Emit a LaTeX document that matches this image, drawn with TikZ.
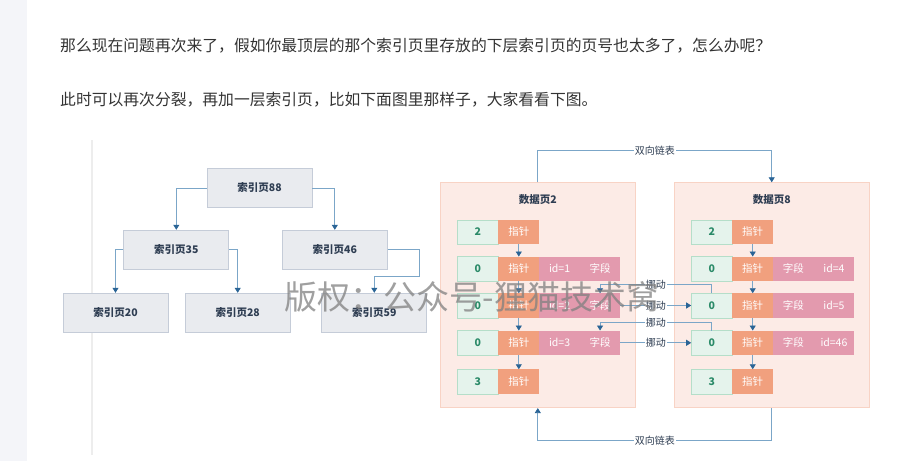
\documentclass[tikz,border=0pt]{standalone}
\usepackage{fontspec}
\setmainfont{Noto Sans CJK SC}
\usetikzlibrary{arrows.meta,positioning}
\definecolor{sidebar}{HTML}{F4F5F9}
\definecolor{paratext}{HTML}{333333}
\definecolor{idxfill}{HTML}{E9EBEF}
\definecolor{idxborder}{HTML}{C5CCD8}
\definecolor{idxtext}{HTML}{2E3D52}
\definecolor{pagebg}{HTML}{FCEBE6}
\definecolor{pageborder}{HTML}{F8D3C5}
\definecolor{numfill}{HTML}{E5F3EC}
\definecolor{numborder}{HTML}{B5DEC9}
\definecolor{numtext}{HTML}{2A8A68}
\definecolor{ptrfill}{HTML}{F1A07E}
\definecolor{fieldfill}{HTML}{E39AAE}
\definecolor{linkline}{HTML}{7BA6C8}
\definecolor{linktip}{HTML}{2A6496}
\tikzstyle{para} = [anchor=west,inner sep=0,text=paratext,font=\fontsize{15.8}{18}\selectfont]
\tikzstyle{link} = [linkline,line width=0.8pt]
\tikzstyle{link>} = [link,-{Triangle[length=5pt,width=6pt,color=linktip]}]
\tikzstyle{idx} = [draw=idxborder,fill=idxfill,line width=0.8pt,minimum width=105,minimum height=39,text=idxtext,font=\fontsize{10.5}{12}\selectfont\bfseries]
\tikzstyle{data page} = [draw=pageborder,fill=pagebg,line width=0.8pt,minimum width=195.5,minimum height=225]
\tikzstyle{page title} = [text=idxtext,font=\fontsize{10.5}{12}\selectfont\bfseries]
\tikzstyle{cell} = [minimum height=24.5,inner sep=0,outer sep=0,font=\fontsize{10.5}{12}\selectfont]
\tikzstyle{numcell} = [cell,draw=numborder,fill=numfill,minimum width=41,text=numtext,font=\fontsize{10.5}{12}\selectfont\bfseries]
\tikzstyle{ptrcell} = [cell,fill=ptrfill,minimum width=41,text=white]
\tikzstyle{fieldcell} = [cell,fill=fieldfill,minimum width=40.5,text=white]
\tikzstyle{move label} = [fill=white,inner sep=1pt,text=idxtext,font=\fontsize{10}{12}\selectfont]
\tikzstyle{watermark} = [text=gray,text opacity=0.75,font=\fontsize{33}{38}\selectfont]

\begin{document}
\begin{tikzpicture}[x=1pt,y=-1pt]
        \useasboundingbox (0,0) rectangle (915,461);
        % side strip and article text
        \fill[sidebar] (0,0) rectangle (27,461);
        \node[para] (line1) at (60,46) {那么现在问题再次来了，假如你最顶层的那个索引页里存放的下层索引页的页号也太多了，怎么办呢？};
        \node[para] (line2) at (60,100) {此时可以再次分裂，再加一层索引页，比如下面图里那样子，大家看看下图。};
        \draw[black!7,line width=1.5pt] (92,140) -- (92,455);

        % index pages
        \node[idx] (p88) at (259.5,188) {索引页88};
        \node[idx] (p35) at (176.3,249.7) {索引页35};
        \node[idx] (p46) at (334.8,249.7) {索引页46};
        \node[idx] (p20) at (115.5,312.7) {索引页20};
        \node[idx] (p28) at (237.7,312.7) {索引页28};
        \node[idx] (p59) at (374.3,312.7) {索引页59};
        \draw[link>] (p88.west) -| (p35.north);
        \draw[link>] (p88.east) -| (p46.north);
        \draw[link>] (p35.west) -| (p20.north);
        \draw[link>] (p35.east) -| (p28.north);
        \draw[link>] (p46.east) -| ++(32,27) -| (p59.north);

        % data pages
        \node[data page] (page2) at (537.8,295.2) {};
        \node[page title] (t2) at (537.8,200) {数据页2};
        \node[data page] (page8) at (771.7,295.2) {};
        \node[page title] (t8) at (771.7,200) {数据页8};

        % records
        \foreach \p/\x in {2/477.8,8/711.7} {
        	\foreach \r/\y/\n in {1/232/2,2/268.8/0,3/305.5/0,4/342.8/0,5/381.5/3} {
        		\node[numcell] (g\p-\r) at (\x,\y) {\n};
        		\node[ptrcell,right=0pt of g\p-\r] (o\p-\r) {指针};
        	}
        	\foreach \r [count=\s from 2] in {1,...,4} {
        		\draw[link>] (o\p-\r.south) -- (o\p-\s.north);
        	}
        }
        \foreach \p/\r/\a/\b in {2/2/id=1/字段,2/3/id=2/字段,2/4/id=3/字段,8/2/字段/id=4,8/3/字段/id=5,8/4/字段/id=46} {
        	\node[fieldcell,right=0pt of o\p-\r] (ka\p-\r) {\a};
        	\node[fieldcell,right=0pt of ka\p-\r] (kb\p-\r) {\b};
        }

        % moves between the pages
        \draw[link>] (g8-3.north) -- ++(0,-9) -| node[pos=0.25,move label] {挪动} (kb2-3.north);
        \draw[link>] (kb2-3.east) -- node[move label] {挪动} (g8-3.west);
        \draw[link>] (g8-4.north) -- ++(0,-8) -| node[pos=0.25,move label] {挪动} (kb2-4.north);
        \draw[link>] (kb2-4.east) -- node[move label] {挪动} (g8-4.west);

        % doubly linked list
        \draw[link>] (page2.north) -- ++(0,-32) -| node[pos=0.25,move label] {双向链表} (page8.north);
        \draw[link>] (page8.south) -- ++(0,32.3) -| node[pos=0.25,move label] {双向链表} (page2.south);

        % watermark
        \node[watermark] (wm) at (472,297) {版权：公众号-狸猫技术窝};
\end{tikzpicture}
\end{document}
